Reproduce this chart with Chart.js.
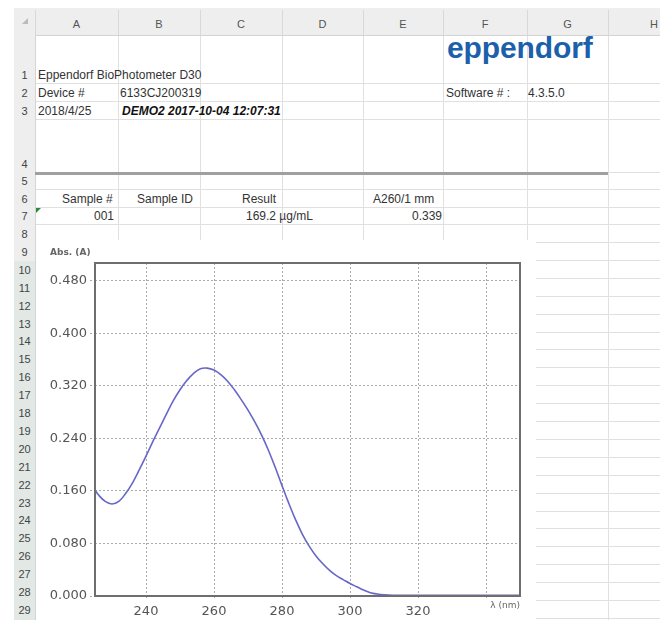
<!DOCTYPE html>
<html><head><meta charset="utf-8">
<script src="https://cdn.jsdelivr.net/npm/chart.js@4.4.1/dist/chart.umd.min.js"></script>
<style>
html,body{margin:0;padding:0;background:#fff;}
#sheet{position:relative;width:660px;height:620px;overflow:hidden;font-family:"Liberation Sans",Arial,sans-serif;color:#333;}
.a{position:absolute;white-space:nowrap;}
.t{font-size:12px;line-height:14px;}
.hl{position:absolute;height:1px;background:#e0e0e0;}
.vl{position:absolute;width:1px;background:#e0e0e0;}
.rn{position:absolute;left:14px;width:21px;font-size:11px;text-align:center;color:#444;}
.cl{position:absolute;top:18px;font-size:11px;color:#555;text-align:center;}
#chartBox{position:absolute;left:38px;top:240px;width:494px;height:380px;background:#fff;}
</style></head>
<body>
<div id="sheet">
  <div id="grid"></div>
  <div class="a" style="left:14px;top:8px;width:646px;height:27px;background:#eeeeee;border-bottom:1px solid #d4d4d4;"></div>
  <div class="a" style="left:14px;top:35px;width:21px;height:585px;background:#eeeeee;border-right:1px solid #d4d4d4;"></div>
  <div class="a" style="left:14px;top:261px;width:21px;height:359px;background:#e2e9e5;"></div>
  <div class="a" style="left:22px;top:18px;width:0;height:0;border-left:6px solid transparent;border-bottom:6px solid #bbb;"></div>
  <div id="labels"></div>
  <div class="a" style="left:35px;top:172px;width:573px;height:3px;background:#a0a0a0;"></div>
  <div class="a" style="left:36px;top:208px;width:0;height:0;border-top:5px solid #2a8a3a;border-right:5px solid transparent;"></div>

  <div class="a" style="left:447px;top:31px;font-size:30px;font-weight:bold;color:#1c5fab;letter-spacing:-0.1px;">eppendorf</div>

  <div class="a t" style="left:38px;top:68px;">Eppendorf BioPhotometer D30</div>
  <div class="a t" style="left:38px;top:86px;">Device #</div>
  <div class="a t" style="left:120px;top:86px;">6133CJ200319</div>
  <div class="a t" style="left:446px;top:86px;">Software # :</div>
  <div class="a t" style="left:528px;top:86px;">4.3.5.0</div>
  <div class="a t" style="left:38px;top:104px;">2018/4/25</div>
  <div class="a t" style="left:122px;top:104px;font-weight:bold;font-style:italic;color:#111;">DEMO2 2017-10-04 12:07:31</div>

  <div class="a t" style="left:62px;top:192px;">Sample #</div>
  <div class="a t" style="left:137px;top:192px;">Sample ID</div>
  <div class="a t" style="left:242px;top:192px;">Result</div>
  <div class="a t" style="left:373px;top:192px;">A260/1 mm</div>
  <div class="a t" style="left:94px;top:209px;">001</div>
  <div class="a t" style="left:246px;top:209px;">169.2 µg/mL</div>
  <div class="a t" style="left:410px;top:209px;width:32px;text-align:right;">0.339</div>

  <div id="chartBox"><canvas id="c" width="494" height="380"></canvas></div>
</div>
<script>
// ---- chart data ----
const wavelengths = [225,226,228,230,232,234,236,238,240,242,244,246,248,250,252,254,256,258,260,262,264,266,268,270,272,274,276,278,280,282,284,286,288,290,292,294,296,298,300,302,304,306,308,310,315,320,325,330,335,340,345,350];
const absorbance  = [0.162,0.154,0.144,0.140,0.144,0.156,0.172,0.192,0.213,0.235,0.256,0.277,0.297,0.314,0.328,0.339,0.346,0.347,0.344,0.337,0.327,0.314,0.299,0.283,0.265,0.245,0.222,0.196,0.168,0.141,0.116,0.094,0.076,0.061,0.049,0.039,0.031,0.025,0.019,0.014,0.009,0.005,0.003,0.002,0.001,0.001,0.001,0.001,0.001,0.001,0.001,0.001];
const xTickValues = [240,260,280,300,320,340];
const xTickLabels = ['240','260','280','300','320',''];
const yTickValues = [0,0.08,0.16,0.24,0.32,0.40,0.48];
const yTickLabels = ['0.000','0.080','0.160','0.240','0.320','0.400','0.480'];
const yAxisLabel = 'Abs. (A)';
const xAxisLabel = 'λ (nm)';

// ---- spreadsheet grid ----
const colEdges = [35,118,200,282,363,443,527,608];
const colNames = ['A','B','C','D','E','F','G','H'];
const rowTops = [35,83,101,119,172,189,207,224,242];
for(let n=10;n<=30;n++) rowTops.push(+(242+(n-9)*17.9).toFixed(1));
const grid = document.getElementById('grid');
const labels = document.getElementById('labels');
function add(parent, cls, style, text){const d=document.createElement('div');d.className=cls;d.setAttribute('style',style);if(text!==undefined)d.textContent=text;parent.appendChild(d);}
for(let i=1;i<rowTops.length;i++){
  const y=rowTops[i];
  if(y<240) add(grid,'hl',`left:35px;top:${y}px;width:625px;`);
  else add(grid,'hl',`left:536px;top:${y}px;width:124px;`);
  add(labels,'rn',`top:${y-14}px;`,String(i));
}
colEdges.forEach((x,i)=>{
  if(i>0) add(grid,'vl',`left:${x}px;top:35px;height:${x>530?585:205}px;`);
  add(labels,'vl',`left:${x}px;top:10px;height:25px;background:#d8d8d8;`);
  const w=(colEdges[i+1]||700)-x;
  add(labels,'cl',`left:${x}px;width:${w}px;`,colNames[i]);
});

// ---- chart ----
const points = wavelengths.map((w,i)=>({x:w,y:absorbance[i]}));
const frame = {
  id:'frame',
  afterDraw(chart){
    const {ctx,chartArea:a}=chart;
    ctx.save();
    ctx.strokeStyle='#6e6e6e';ctx.lineWidth=2;
    ctx.strokeRect(a.left,a.top,a.right-a.left,a.bottom-a.top);
    ctx.fillStyle='#666';ctx.font='bold 9px "DejaVu Sans"';
    ctx.textBaseline='middle';ctx.textAlign='left';
    ctx.fillText(yAxisLabel,a.left-45,a.top-10);
    ctx.font='9px "DejaVu Sans"';ctx.textAlign='right';
    ctx.fillText(xAxisLabel,a.right,a.bottom+10);
    ctx.restore();
  }
};
new Chart(document.getElementById('c'),{
  type:'line',
  data:{datasets:[{data:points,borderColor:'#6767c8',borderWidth:1.6,pointRadius:0,fill:false,tension:0.4}]},
  options:{
    responsive:false,animation:false,
    layout:{padding:{left:0,right:12,top:23,bottom:0}},
    plugins:{legend:{display:false},tooltip:{enabled:false}},
    scales:{
      x:{type:'linear',min:225,max:350,
        afterBuildTicks(s){s.ticks=xTickValues.map(v=>({value:v}));},
        afterFit(s){s.height=24;},
        ticks:{callback:(v)=>{const i=xTickValues.indexOf(v);return i<0?'':xTickLabels[i];},color:'#555',font:{family:'DejaVu Sans',size:13},padding:4,maxRotation:0,autoSkip:false},
        grid:{color:'#aaaaaa',tickLength:4,tickBorderDash:[2,2]},
        border:{display:false,dash:[2,2]}},
      y:{min:0,max:0.507,
        afterBuildTicks(s){s.ticks=yTickValues.map(v=>({value:v}));},
        afterFit(s){s.width=57;},
        ticks:{callback:(v)=>{const i=yTickValues.findIndex(t=>Math.abs(t-v)<1e-9);return i<0?'':yTickLabels[i];},color:'#555',font:{family:'DejaVu Sans',size:13},padding:3,autoSkip:false},
        grid:{color:'#aaaaaa',tickLength:5,tickBorderDash:[2,2]},
        border:{display:false,dash:[2,2]}}
    }
  },
  plugins:[frame]
});
</script>
</body></html>
